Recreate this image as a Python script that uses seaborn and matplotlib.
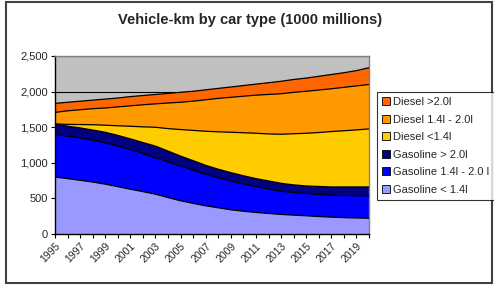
import numpy as np
import pandas as pd
import seaborn as sns
import matplotlib.pyplot as plt
from matplotlib.patches import Patch, Rectangle

# Vehicle-km by car type, 1000 millions
years = list(range(1995, 2021))

gasoline_small = [800, 778, 754, 730, 700, 665, 629, 595, 559, 512, 466, 430, 396,
                  368, 340, 320, 303, 288, 275, 265, 256, 245, 237, 230, 225, 222]
gasoline_mid = [597, 597, 596, 588, 580, 570, 558, 535, 512, 500, 488, 465, 442,
                422, 405, 385, 363, 344, 326, 317, 312, 310, 308, 310, 312, 313]
gasoline_large = [149, 140, 140, 142, 149, 150, 149, 155, 163, 153, 140, 135, 126,
                  120, 117, 113, 112, 113, 111, 108, 107, 113, 116, 121, 124, 126]
diesel_small = [0, 25, 47, 75, 99, 135, 177, 220, 265, 315, 373, 425, 479,
                525, 567, 604, 637, 660, 689, 718, 740, 757, 778, 789, 801, 815]
diesel_mid = [162, 190, 208, 225, 242, 265, 287, 310, 329, 360, 383, 411, 442,
              470, 491, 513, 535, 555, 569, 582, 590, 597, 601, 610, 618, 624]
diesel_large = [127, 120, 120, 120, 125, 125, 130, 130, 132, 135, 140, 139, 140,
                140, 145, 150, 155, 165, 175, 180, 185, 193, 200, 205, 215, 235]

series_names = ["Gasoline < 1.4l", "Gasoline 1.4l - 2.0 l", "Gasoline > 2.0l",
                "Diesel <1.4l", "Diesel 1.4l - 2.0l", "Diesel >2.0l"]
series_values = [gasoline_small, gasoline_mid, gasoline_large,
                 diesel_small, diesel_mid, diesel_large]
colors = ["#9999FF", "#0000FF", "#000080", "#FFCC00", "#FF9900", "#FF6600"]

df = pd.DataFrame(dict(zip(series_names, series_values)), index=years)
cum = df.cumsum(axis=1)

sns.set_style("ticks")
plt.rcParams["font.family"] = ["Liberation Sans", "DejaVu Sans"]

fig = plt.figure(figsize=(4.94, 2.85), dpi=100)
ax = fig.add_axes([55 / 494, 1 - 234 / 285, 314 / 494, 178 / 285])
ax.set_facecolor("#C0C0C0")

ax.stackplot(df.index, [df[c] for c in series_names], colors=colors,
             edgecolor="none", zorder=2)
# black outline along the top of each band
long = cum.reset_index().melt(id_vars="index", var_name="series", value_name="top")
sns.lineplot(data=long, x="index", y="top", units="series", estimator=None,
             color="black", linewidth=0.9, ax=ax, zorder=3, legend=False)

ax.set_xlim(1995, 2020)
ax.set_ylim(0, 2500)
ax.set_yticks(range(0, 2501, 500))
ax.set_yticklabels([f"{v:,}" for v in range(0, 2501, 500)], fontsize=8)
ax.set_xticks(years)
ax.set_xticklabels([str(y) if (y - 1995) % 2 == 0 and y < 2020 else "" for y in years],
                   rotation=45, ha="right", rotation_mode="anchor", fontsize=7.5)
ax.tick_params(axis="both", direction="out", length=3, width=0.8, color="black", pad=2)
ax.set_xlabel("")
ax.set_ylabel("")

ax.yaxis.grid(True, color="black", linewidth=0.8)
ax.set_axisbelow(True)
for side in ["left", "bottom"]:
    ax.spines[side].set_color("black")
    ax.spines[side].set_linewidth(1.0)
for side in ["top", "right"]:
    ax.spines[side].set_visible(True)
    ax.spines[side].set_color("#808080")
    ax.spines[side].set_linewidth(1.0)

fig.text(250 / 494, 1 - 20 / 285, "Vehicle-km by car type (1000 millions)",
         ha="center", va="center", fontsize=10.5, fontweight="bold")

handles = [Patch(facecolor=c, edgecolor="black", linewidth=0.6, label=n)
           for n, c in zip(series_names, colors)][::-1]
leg = fig.legend(handles=handles, loc="upper left",
                 bbox_to_anchor=(377 / 494, 1 - 92 / 285), fontsize=8,
                 frameon=True, fancybox=False, handlelength=0.7, handleheight=0.7,
                 handletextpad=0.3, labelspacing=0.68, borderpad=0.45,
                 borderaxespad=0)
leg.get_frame().set_edgecolor("black")
leg.get_frame().set_linewidth(0.8)

fig.patches.append(Rectangle((6 / 494, 2 / 285), 486 / 494, 281 / 285,
                             transform=fig.transFigure, fill=False,
                             edgecolor="#404040", linewidth=1.5))

fig.savefig("out.png", dpi=100)
